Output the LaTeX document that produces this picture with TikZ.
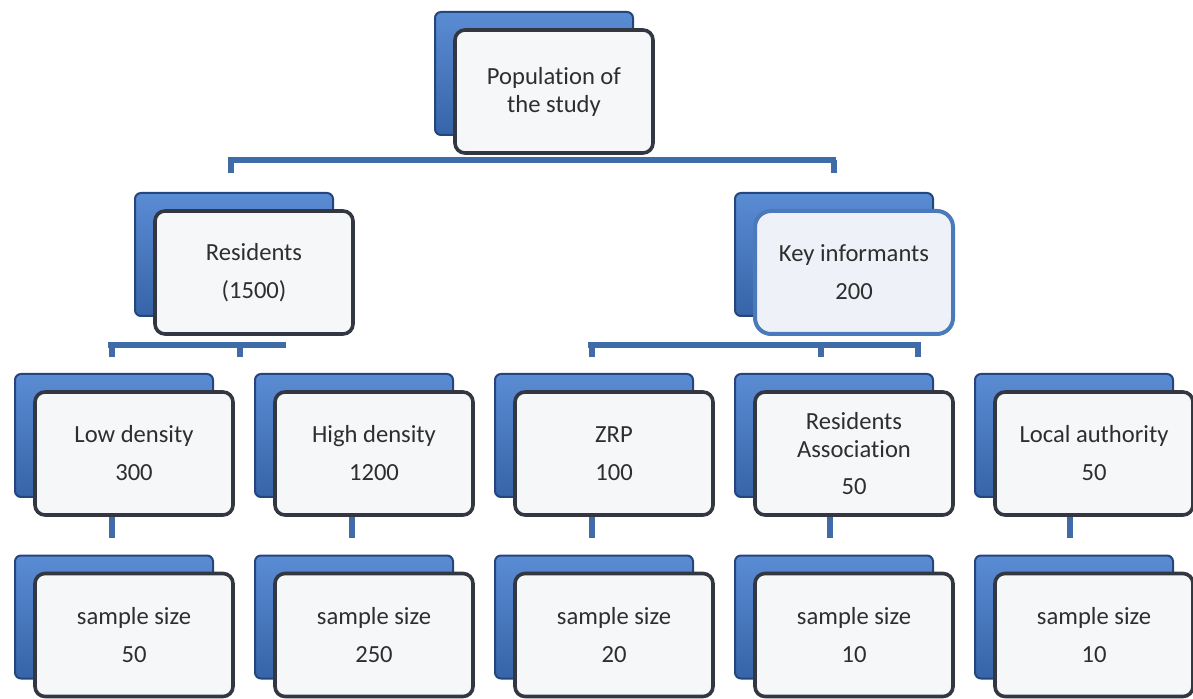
\documentclass[tikz,border=0pt]{standalone}
\usepackage{fontspec}
\setmainfont{Carlito}[Ligatures=NoCommon]
\usetikzlibrary{calc}

\definecolor{cardblueT}{HTML}{5A8CD4}
\definecolor{cardblueB}{HTML}{3764A8}
\definecolor{cardedge}{HTML}{23477D}
\definecolor{frontedge}{HTML}{323741}
\definecolor{frontfill}{HTML}{F6F7F9}
\definecolor{keyedge}{HTML}{4A7ABA}
\definecolor{keyfill}{HTML}{EEF2F8}
\definecolor{linkblue}{HTML}{3F6BA8}
\definecolor{txt}{HTML}{2E2E2E}

\tikzset{
  cardbase/.style={minimum width=99pt, minimum height=61.5pt, inner sep=0pt},
  backcard/.style={cardbase, rounded corners=3pt, draw=cardedge, line width=1pt,
    top color=cardblueT, bottom color=cardblueB},
  frontcard/.style={cardbase, rounded corners=5pt, draw=frontedge, line width=1.8pt,
    fill=frontfill, align=center, text=txt,
    font=\fontsize{12.3}{14}\selectfont},
  keycard/.style={frontcard, draw=keyedge, fill=keyfill, line width=2pt, rounded corners=8pt},
  link/.style={draw=linkblue, line width=2.6pt},
}

% a card: blue back sheet offset up-left, light front sheet with text
% #1 name, #2 x, #3 y (centre of the front sheet), #4 style, #5 text
\newcommand{\cardpair}[5]{%
  \node[backcard] (#1B) at (#2-20,#3-18) {};
  \node[#4] (#1) at (#2,#3) {#5};
}

\begin{document}
\begin{tikzpicture}[x=0.5pt,y=-0.5pt]
\useasboundingbox (0,0) rectangle (1193,699);

% top level
\cardpair{pop}{554}{91.5}{frontcard}{Population of\\the study}

% second level
\cardpair{res}{254}{272.5}{frontcard}{Residents\\[5pt](1500)}
\cardpair{key}{854}{272.5}{keycard}{Key informants\\[5pt]200}

% third level
\cardpair{low}{134}{453.5}{frontcard}{Low density\\[5pt]300}
\cardpair{high}{374}{453.5}{frontcard}{High density\\[5pt]1200}
\cardpair{zrp}{614}{453.5}{frontcard}{ZRP\\[5pt]100}
\cardpair{ra}{854}{453.5}{frontcard}{Residents\\Association\\[4.5pt]50}
\cardpair{la}{1094}{453.5}{frontcard}{Local authority\\[5pt]50}

% sample sizes
\cardpair{lowS}{134}{635}{frontcard}{sample size\\[5pt]50}
\cardpair{highS}{374}{635}{frontcard}{sample size\\[5pt]250}
\cardpair{zrpS}{614}{635}{frontcard}{sample size\\[5pt]20}
\cardpair{raS}{854}{635}{frontcard}{sample size\\[5pt]10}
\cardpair{laS}{1094}{635}{frontcard}{sample size\\[5pt]10}

% bus under the top card
\coordinate (busL) at (228,160);
\coordinate (busR) at (836,160);
\coordinate (tickRes) at (231,173);
\coordinate (tickKey) at (834,173);
\draw[link] (busL) -- (busR);
\draw[link] (busL -| tickRes) -- (tickRes);
\draw[link] (busR -| tickKey) -- (tickKey);

% bus under Residents
\coordinate (rbusL) at (108,345);
\coordinate (rbusR) at (286,345);
\coordinate (rtick1) at (112,357);
\coordinate (rtick2) at (240,357);
\draw[link] (rbusL) -- (rbusR);
\draw[link] (rbusL -| rtick1) -- (rtick1);
\draw[link] (rbusL -| rtick2) -- (rtick2);

% bus under Key informants
\coordinate (kbusL) at (588,345);
\coordinate (kbusR) at (921,345);
\coordinate (ktick1) at (592,357);
\coordinate (ktick2) at (821,357);
\coordinate (ktick3) at (918,357);
\draw[link] (kbusL) -- (kbusR);
\draw[link] (kbusL -| ktick1) -- (ktick1);
\draw[link] (kbusL -| ktick2) -- (ktick2);
\draw[link] (kbusL -| ktick3) -- (ktick3);

% stubs between the third level and the sample sizes
\foreach \n/\x in {low/112, high/352, zrp/592, ra/830, la/1070}{
  \coordinate (\n stub) at (\x,538);
  \draw[link] (\n.south -| \n stub) -- (\n stub);
}
\end{tikzpicture}
\end{document}
